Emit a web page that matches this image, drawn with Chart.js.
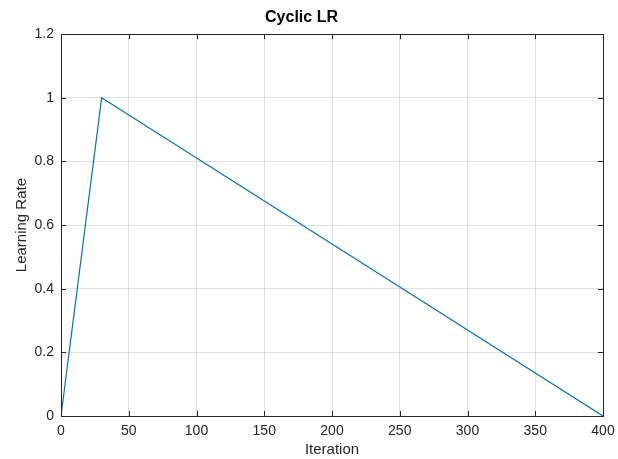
<!DOCTYPE html>
<html>
<head>
<meta charset="utf-8">
<script src="https://cdn.jsdelivr.net/npm/chart.js@4"></script>
<style>
  html, body { margin: 0; padding: 0; background: #fff; }
  #wrap { width: 618px; height: 459px; }
</style>
</head>
<body>
<div id="wrap"><canvas id="c" width="618" height="459"></canvas></div>
<script>
// schedule breakpoints
const iterations = [0, 30, 400];
const learningRates = [0, 1, 0];
const xTicks = [0, 50, 100, 150, 200, 250, 300, 350, 400];
const yTicks = [0, 0.2, 0.4, 0.6, 0.8, 1, 1.2];

const axisColor = '#262626';
const fontFamily = '"Liberation Sans", Arial, Helvetica, sans-serif';

// MATLAB style box + inward ticks
const boxPlugin = {
    id: 'box',
    afterDraw(chart) {
        const { ctx, chartArea: a, scales } = chart;
        const len = 5;
        ctx.save();
        ctx.strokeStyle = axisColor;
        ctx.lineWidth = 1;
        ctx.beginPath();
        for (const v of xTicks) {
            const x = Math.round(scales.x.getPixelForValue(v)) + 0.5;
            ctx.moveTo(x, a.bottom); ctx.lineTo(x, a.bottom - len);
            ctx.moveTo(x, a.top); ctx.lineTo(x, a.top + len);
        }
        for (const v of yTicks) {
            const y = Math.round(scales.y.getPixelForValue(v)) + 0.5;
            ctx.moveTo(a.left, y); ctx.lineTo(a.left + len, y);
            ctx.moveTo(a.right, y); ctx.lineTo(a.right - len, y);
        }
        ctx.stroke();
        ctx.strokeRect(Math.round(a.left) + 0.5, Math.round(a.top) + 0.5,
            Math.round(a.right - a.left), Math.round(a.bottom - a.top));
        ctx.restore();
    }
};

new Chart(document.getElementById('c'), {
    type: 'line',
    data: {
        datasets: [{
            data: iterations.map((x, i) => ({ x: x, y: learningRates[i] })),
            borderColor: '#0072BD',
            borderWidth: 1.2,
            pointRadius: 0,
            tension: 0,
            fill: false
        }]
    },
    options: {
        responsive: false,
        animation: false,
        layout: { padding: { left: 0, right: 15, top: 0, bottom: 0 } },
        plugins: {
            legend: { display: false },
            tooltip: { enabled: false },
            title: {
                display: true,
                text: 'Cyclic LR',
                color: '#000',
                font: { family: fontFamily, size: 16, weight: 'bold' },
                padding: { top: 8, bottom: 7 }
            }
        },
        scales: {
            x: {
                type: 'linear',
                min: 0,
                max: 400,
                afterBuildTicks: s => { s.ticks = xTicks.map(v => ({ value: v })); },
                afterFit: s => { s.height = 43; s.paddingLeft = 0; s.paddingRight = 0; },
                grid: { color: 'rgba(0,0,0,0.12)', drawTicks: false },
                border: { display: false },
                ticks: {
                    color: axisColor,
                    padding: 7,
                    maxRotation: 0,
                    font: { family: fontFamily, size: 14 }
                },
                title: {
                    display: true,
                    text: 'Iteration',
                    color: axisColor,
                    padding: { top: 2, bottom: 0 },
                    font: { family: fontFamily, size: 15 }
                }
            },
            y: {
                min: 0,
                max: 1.2,
                afterBuildTicks: s => { s.ticks = yTicks.map(v => ({ value: v })); },
                afterFit: s => { s.width = 61; },
                grid: { color: 'rgba(0,0,0,0.12)', drawTicks: false },
                border: { display: false },
                ticks: {
                    color: axisColor,
                    padding: 7,
                    font: { family: fontFamily, size: 14 },
                    callback: v => String(parseFloat(v.toFixed(1)))
                },
                title: {
                    display: true,
                    text: 'Learning Rate',
                    color: axisColor,
                    padding: { top: 13, bottom: 0 },
                    font: { family: fontFamily, size: 15 }
                }
            }
        }
    },
    plugins: [boxPlugin]
});
</script>
</body>
</html>
